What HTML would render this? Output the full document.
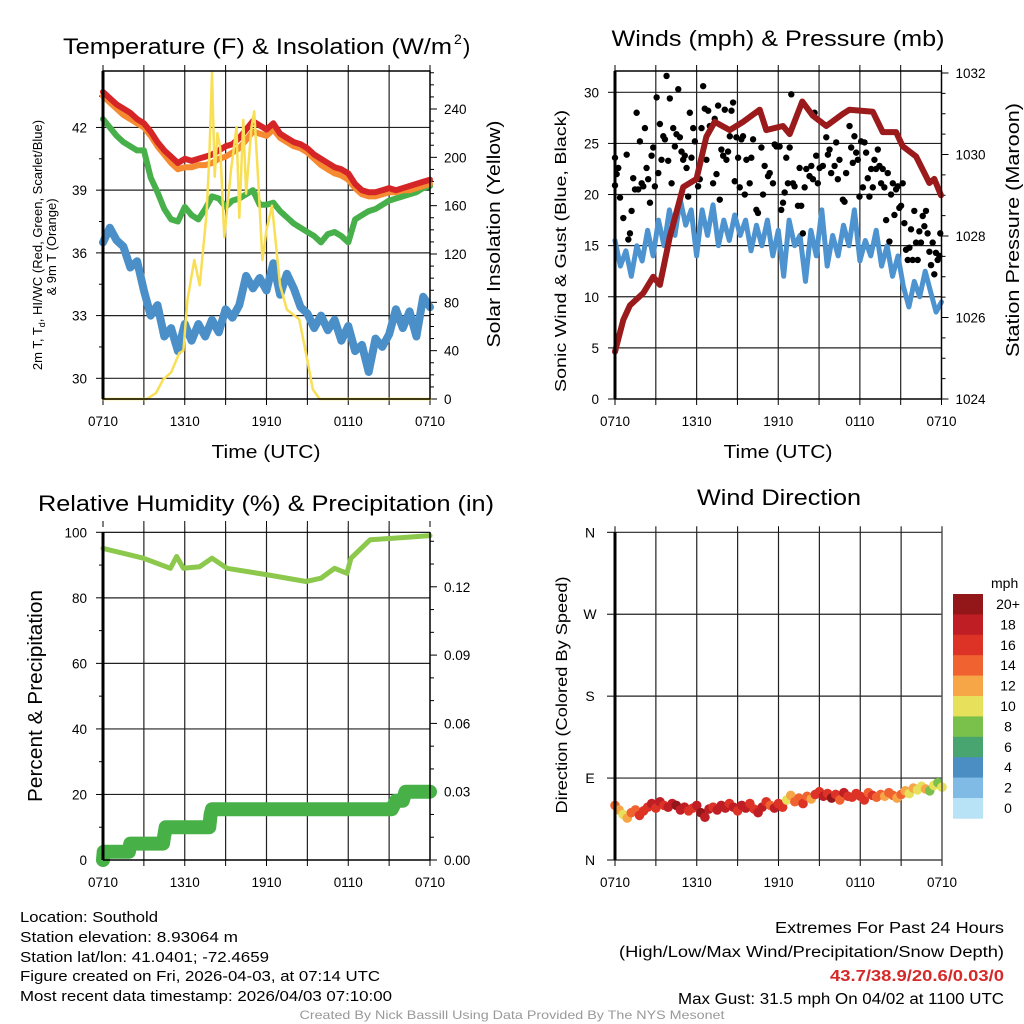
<!DOCTYPE html>
<html><head><meta charset="utf-8"><style>
html,body{margin:0;padding:0;background:#fff;}
svg{display:block;font-family:"Liberation Sans",Arial,sans-serif;}
</style></head><body>
<svg id="chart" xmlns="http://www.w3.org/2000/svg" width="1024" height="1024" viewBox="0 0 1024 1024">
<rect width="1024" height="1024" fill="#fff"/>
<g>
<text x="63" y="54" font-size="22" textLength="389" lengthAdjust="spacingAndGlyphs">Temperature (F) &amp; Insolation (W/m</text>
<text x="454" y="44" font-size="14">2</text>
<text x="463" y="54" font-size="22">)</text>
</g>
<text x="778" y="46" font-size="22" text-anchor="middle" textLength="333" lengthAdjust="spacingAndGlyphs">Winds (mph) &amp; Pressure (mb)</text>
<text x="266" y="511" font-size="22" text-anchor="middle" textLength="456" lengthAdjust="spacingAndGlyphs">Relative Humidity (%) &amp; Precipitation (in)</text>
<text x="779" y="505" font-size="22" text-anchor="middle" textLength="164" lengthAdjust="spacingAndGlyphs">Wind Direction</text>
<text x="266" y="458" font-size="18" text-anchor="middle" textLength="109" lengthAdjust="spacingAndGlyphs">Time (UTC)</text>
<text x="778" y="458" font-size="18" text-anchor="middle" textLength="109" lengthAdjust="spacingAndGlyphs">Time (UTC)</text>
<text transform="translate(42,245) rotate(-90)" font-size="13" text-anchor="middle">2m T, T<tspan font-size="9" dy="3">d</tspan><tspan dy="-3">, HI/WC (Red, Green, Scarlet/Blue)</tspan></text>
<text transform="translate(56,247) rotate(-90)" font-size="13" text-anchor="middle">&amp; 9m T (Orange)</text>
<text transform="translate(500,234) rotate(-90)" font-size="18" text-anchor="middle" textLength="227" lengthAdjust="spacingAndGlyphs">Solar Insolation (Yellow)</text>
<text transform="translate(566,251) rotate(-90)" font-size="16" text-anchor="middle" textLength="282" lengthAdjust="spacingAndGlyphs">Sonic Wind &amp; Gust (Blue, Black)</text>
<text transform="translate(1019,230) rotate(-90)" font-size="18" text-anchor="middle" textLength="254" lengthAdjust="spacingAndGlyphs">Station Pressure (Maroon)</text>
<text transform="translate(42,696) rotate(-90)" font-size="20" text-anchor="middle" textLength="212" lengthAdjust="spacingAndGlyphs">Percent &amp; Precipitation</text>
<text transform="translate(567,695) rotate(-90)" font-size="16" text-anchor="middle" textLength="237" lengthAdjust="spacingAndGlyphs">Direction (Colored By Speed)</text>
<g font-size="14.5">
<text x="20" y="922" textLength="138" lengthAdjust="spacingAndGlyphs">Location: Southold</text>
<text x="20" y="942" textLength="218" lengthAdjust="spacingAndGlyphs">Station elevation: 8.93064 m</text>
<text x="20" y="962" textLength="249" lengthAdjust="spacingAndGlyphs">Station lat/lon: 41.0401; -72.4659</text>
<text x="20" y="981" textLength="360" lengthAdjust="spacingAndGlyphs">Figure created on Fri, 2026-04-03, at 07:14 UTC</text>
<text x="20" y="1001" textLength="372" lengthAdjust="spacingAndGlyphs">Most recent data timestamp: 2026/04/03 07:10:00</text>
</g>
<g font-size="15.5" text-anchor="end">
<text x="1004" y="933" textLength="229" lengthAdjust="spacingAndGlyphs">Extremes For Past 24 Hours</text>
<text x="1004" y="957" textLength="385" lengthAdjust="spacingAndGlyphs">(High/Low/Max Wind/Precipitation/Snow Depth)</text>
<text x="1004" y="981" fill="#d42a2a" font-weight="bold" textLength="174" lengthAdjust="spacingAndGlyphs">43.7/38.9/20.6/0.03/0</text>
<text x="1004" y="1004" textLength="326" lengthAdjust="spacingAndGlyphs">Max Gust: 31.5 mph On 04/02 at 1100 UTC</text>
</g>
<text x="512" y="1019" font-size="12" fill="#999" text-anchor="middle" textLength="425" lengthAdjust="spacingAndGlyphs">Created By Nick Bassill Using Data Provided By The NYS Mesonet</text>
</svg>
<script>
// ---------- data ----------
const xTickLabels = ["0710","1310","1910","0110","0710"];
const halfHours = [0,0.5,1,1.5,2,2.5,3,3.5,4,4.5,5,5.5,6,6.5,7,7.5,8,8.5,9,9.5,10,10.5,11,11.5,12,12.5,13,13.5,14,14.5,15,15.5,16,16.5,17,17.5,18,18.5,19,19.5,20,20.5,21,21.5,22,22.5,23,23.5,24];
const tempRed = [43.7,43.4,43.1,42.9,42.7,42.4,42.2,41.8,41.3,40.9,40.6,40.3,40.5,40.4,40.5,40.6,40.7,40.9,41.1,41.2,41.5,41.9,42.3,42.1,41.9,42.2,41.7,41.5,41.3,41.2,41.0,40.7,40.5,40.3,40.1,40.0,39.8,39.3,39.0,38.9,38.9,39.0,39.1,39.0,39.1,39.2,39.3,39.4,39.5];
const temp9mOrange = [43.5,43.2,42.9,42.6,42.4,42.2,42.0,41.6,41.1,40.7,40.3,40.0,40.1,40.1,40.2,40.2,40.3,40.5,40.6,40.8,41.0,41.4,41.8,41.7,41.6,41.9,41.5,41.3,41.1,41.0,40.8,40.5,40.2,40.0,39.8,39.7,39.5,39.1,38.8,38.7,38.7,38.8,38.9,38.9,39.0,39.0,39.1,39.2,39.3];
const heatIndexGreen = [42.4,42.0,41.6,41.3,41.1,40.9,40.9,39.6,38.9,38.1,37.6,37.5,38.2,37.8,37.6,38.1,38.7,38.6,38.2,38.5,38.6,38.8,39.0,38.3,38.3,38.4,38.0,37.7,37.4,37.2,37.0,36.8,36.5,36.9,37.0,36.8,36.5,37.6,37.8,38.0,38.1,38.3,38.5,38.6,38.7,38.8,38.9,39.1,39.2];
const dewpointBlue = [36.5,37.2,36.6,36.3,35.3,35.6,34.2,33.0,33.5,32.0,32.4,31.3,32.6,31.8,32.6,32.0,32.8,32.2,33.3,32.9,33.5,34.9,34.3,34.8,34.2,35.5,34.0,35.0,34.3,33.4,33.1,32.4,33.0,32.3,32.8,31.8,32.5,31.3,31.6,30.3,31.9,31.5,32.1,33.3,32.4,33.2,32.0,33.9,33.4];
const solarHours = [0,3.2,3.9,4.4,5.0,5.6,5.9,6.2,6.7,7.1,7.6,7.8,8.0,8.2,8.4,8.6,8.9,9.4,9.8,10.0,10.3,10.5,10.9,11.1,11.4,11.7,12.0,12.4,13.0,13.5,14.4,14.9,15.4,15.9,24];
const solarWm2 = [0,0,5,16,22,38,40,82,115,94,154,200,270,184,220,208,134,190,225,150,231,170,225,238,180,115,140,160,94,74,66,38,8,0,0];
const tempTicks = [30,33,36,39,42];
const solarTicks = [0,40,80,120,160,200,240];

const pressHours = [0,0.61,1.1,2.08,2.81,3.3,4.03,5.01,5.99,6.72,7.33,8.44,9.41,10.64,11.12,12.35,12.84,13.77,14.55,15.53,16.75,17.24,18.95,19.68,20.66,21.15,22.13,23.11,23.47,23.96];
const pressureMb = [1025.16,1025.94,1026.3,1026.6,1027.0,1026.8,1027.98,1029.2,1029.4,1030.44,1030.8,1030.6,1030.8,1031.1,1030.6,1030.7,1030.5,1031.3,1030.95,1030.7,1031.0,1031.1,1031.05,1030.55,1030.55,1030.2,1029.95,1029.3,1029.4,1029.0];
const windHours = [0,0.4,0.8,1.2,1.6,2,2.4,2.8,3.2,3.6,4,4.4,4.8,5.2,5.6,6,6.4,6.8,7.2,7.6,8,8.4,8.8,9.2,9.6,10,10.4,10.8,11.2,11.6,12,12.4,12.8,13.2,13.6,14,14.4,14.8,15.2,15.6,16,16.4,16.8,17.2,17.6,18,18.4,18.8,19.2,19.6,20,20.4,20.8,21.2,21.6,22,22.4,22.8,23.2,23.6,24];
const windMph = [15.5,13,14.5,12,15,13.5,16.5,14,17.5,15,18.5,16,19.5,17,18.5,14,18.5,16,19,15,17.5,15.5,18,16,17.5,14.5,17,15,17.5,14,16.5,12,17.5,15,16,11.5,16.5,14,18.5,13,16,14,17,15,18.5,13.5,15.5,14,16.5,13,15,12,14,11,9,11.5,10,12.5,10.5,8.5,9.5];
const gustHours = [0,0.12,0.24,0,0.37,0.61,0.86,1.1,0.98,1.34,1.22,1.47,1.59,1.71,1.83,1.96,2.08,2.2,2.32,2.44,2.57,2.69,2.81,2.93,3.06,3.18,3.3,3.42,3.55,3.67,3.79,3.91,4.03,4.16,4.28,4.4,4.52,4.65,4.77,4.89,5.01,5.13,5.26,5.38,5.5,5.62,5.75,5.87,6.11,6.23,6.36,6.48,6.6,6.72,6.85,6.97,7.21,7.33,7.46,7.58,7.7,7.82,7.95,8.07,8.19,8.31,8.44,8.56,8.68,8.8,8.92,9.05,9.17,9.29,9.41,9.54,9.66,9.9,10.02,10.15,10.39,10.51,10.76,10.88,11.0,11.12,11.25,11.37,11.61,11.74,11.86,12.1,12.22,12.35,12.47,12.59,12.71,12.84,12.96,13.08,13.2,13.45,13.57,13.69,13.81,13.94,14.06,14.3,14.43,14.55,14.67,14.79,14.91,15.04,15.28,15.53,15.65,15.77,15.89,16.14,16.26,16.38,16.5,16.75,16.87,16.99,17.24,17.36,17.48,17.6,17.73,17.85,17.97,18.09,18.22,18.34,18.46,18.58,18.7,18.83,18.95,19.07,19.19,19.32,19.44,19.56,19.68,19.8,19.93,20.05,20.17,20.29,20.42,20.54,20.66,20.78,20.9,21.03,21.15,21.27,21.39,21.52,21.64,21.76,21.88,22.0,22.13,22.25,22.37,22.49,22.62,22.74,22.86,22.98,23.11,23.23,23.35,23.47,23.59,23.72,23.84,23.91];
const gustMph = [23.6,22.0,22.6,20.9,19.7,17.7,23.9,16.2,15.6,21.6,18.4,20.5,28.0,20.5,25.2,21.1,20.8,26.5,22.6,21.5,19.2,23.8,24.6,20.8,29.5,22.1,26.9,23.4,25.7,25.4,31.6,23.3,29.4,21.1,26.5,24.7,25.9,30.3,25.6,24.2,23.4,23.8,22.6,19.8,28.0,23.6,26.5,25.2,20.8,21.5,26.5,30.6,28.4,23.4,28.2,26.7,21.1,27.4,22.0,28.7,19.5,24.4,23.8,28.3,23.4,24.2,25.7,28.2,29.0,21.3,25.6,23.6,20.7,25.4,25.7,20.0,23.4,21.1,23.6,25.4,18.5,18.2,24.6,20.0,22.8,26.4,21.8,22.1,21.1,24.9,24.7,24.7,18.5,19.2,20.2,23.6,21.1,24.6,29.8,21.1,20.8,18.9,22.6,18.9,16.2,20.7,22.5,21.8,22.8,21.5,28.0,23.8,21.1,22.6,22.8,25.6,23.9,24.4,22.1,22.8,25.1,21.5,23.4,19.5,19.3,22.1,26.7,24.6,23.1,25.7,24.1,23.4,19.8,25.2,20.7,25.1,24.1,21.6,19.8,22.5,20.7,23.4,22.5,24.4,22.8,21.1,22.5,20.7,17.5,22.1,15.4,20.0,21.1,18.0,20.5,20.8,18.7,18.9,21.1,17.2,14.6,13.6,14.8,16.6,13.6,18.4,15.3,13.6,16.4,15.3,17.9,16.9,18.4,16.2,14.4,13.1,15.3,12.2,14.3,13.6,14.0,16.2];
const windTicks = [0,5,10,15,20,25,30];
const pressureTicks = [1024,1026,1028,1030,1032];

const rhHours = [0,2.96,4.95,5.4,5.9,7.1,8.0,9.1,12.1,14.9,16.0,17.0,17.9,18.2,19.6,21.3,24];
const rhPercent = [95.1,92.1,89.0,92.6,89.0,89.5,92.1,89.0,87.0,85.0,86.0,89.0,87.5,92.1,97.7,98.2,99.0];
const precipHours = [0,0.05,1.9,2.0,4.4,4.5,4.6,7.8,7.9,8.0,21.2,21.5,22.0,22.2,24];
const precipInches = [0,0.0036,0.0036,0.0072,0.0072,0.0108,0.0144,0.0144,0.02,0.0223,0.0223,0.026,0.026,0.03,0.03];
const rhTicks = [0,20,40,60,80,100];
const precipTicks = ["0.00","0.03","0.06","0.09","0.12"];

const dirHours = [];
const dirDegrees = [60,55,50,46,52,55,49,54,58,62,57, 64,60,58,62,60,55,58,54,57, 60,52,47,56,58,55,60,57,62,58, 54,60,57,62,56,52,58,64,60,57, 62,58,66,71,64,68,62,70,67,72, 75,70,73,68,72,66,74,70,69,73, 70,66,74,71,69,72,70,74,71,68, 72,76,73,79,77,81,78,76,82,85,80];
const dirSpeedMph = [14,13,11,12,15,14,17,16,17,18,17, 18,17,19,18,21,19,18,17,16, 18,20,19,18,17,18,19,18,17,18, 17,18,19,17,16,18,19,17,15,18, 17,16,11,12,14,15,16,14,13,16, 17,18,16,20,17,15,18,17,16,17, 16,17,15,16,14,15,13,14,15,13, 14,12,11,13,10,11,12,9,11,8,10];
for (let i = 0; i < dirDegrees.length; i++) dirHours.push(+(i * 0.3).toFixed(1));
const dirTickLabels = ["N","E","S","W","N"];
const speedBinLabels = ["0","2","4","6","8","10","12","14","16","18","20+"];
const speedColors = ["#b8e2f6","#7fbbe4","#4a8ec4","#49a56f","#7ac14b","#e6e05a","#f6a646","#f06330","#dd3327","#be1e24","#931619"];

// ---------- helpers ----------
const NS = "http://www.w3.org/2000/svg";
const svg = document.getElementById("chart");
function mk(tag, attrs, parent) {
  const e = document.createElementNS(NS, tag);
  for (const k in attrs) e.setAttribute(k, attrs[k]);
  (parent || svg).appendChild(e);
  return e;
}
function lin(d0, d1, r0, r1) { return v => r0 + (v - d0) * (r1 - r0) / (d1 - d0); }
function pathOf(xs, ys, sx, sy) {
  return xs.map((h, i) => (i ? "L" : "M") + sx(h).toFixed(1) + " " + sy(ys[i]).toFixed(1)).join(" ");
}

function frame(P, name) {
  const g = mk("g", {});
  
  
  for (let h = 3; h < 24; h += 3) {
    const x = P.sx(h);
    const l = mk("line", {x1: x, x2: x, y1: P.y0, y2: P.y1, stroke: "#222", "stroke-width": 1.2}, g);
    
    
  }
  for (let h = 0; h <= 24; h += 3) {
    const x = P.sx(h);
    const t = mk("line", {x1: x, x2: x, y1: P.y1, y2: P.y1 + 6, stroke: "#000", "stroke-width": 1}, g);
    
    
    const t2 = mk("line", {x1: x, x2: x, y1: P.y0 - 6, y2: P.y0, stroke: "#000", "stroke-width": 1}, g);
    
    
  }
  xTickLabels.forEach((lab, i) => {
    const t = mk("text", {x: P.sx(i * 6), y: P.y1 + 27, "font-size": 13.5, "text-anchor": "middle"}, g);
    t.textContent = lab;
    
    
  });
  return g;
}
function border(P, name) {
  const r = mk("rect", {x: P.x0, y: P.y0, width: P.x1 - P.x0, height: P.y1 - P.y0, fill: "none", stroke: "#000", "stroke-width": 1.5});
  
  
  const l = mk("line", {x1: P.x0, x2: P.x0, y1: P.y0, y2: P.y1, stroke: "#000", "stroke-width": 3});
  
  
}
function hGrid(P, yPix, g) {
  const l = mk("line", {x1: P.x0, x2: P.x1, y1: yPix, y2: yPix, stroke: "#222", "stroke-width": 1.2}, g);
  
  
}
function leftTick(P, y, label, g, len) {
  const t = mk("line", {x1: P.x0 - (len || 7), x2: P.x0, y1: y, y2: y, stroke: "#000", "stroke-width": 1}, g);
  
  
  if (label !== null) {
    const tx = mk("text", {x: P.x0 - 16, y: y + 5, "font-size": 13.5, "text-anchor": "end"}, g);
    tx.textContent = label;
    
    
  }
}
function rightTick(P, y, label, g, len) {
  const t = mk("line", {x1: P.x1, x2: P.x1 + (len || 7), y1: y, y2: y, stroke: "#000", "stroke-width": 1}, g);
  
  
  if (label !== null) {
    const tx = mk("text", {x: P.x1 + 14, y: y + 5, "font-size": 13.5, "text-anchor": "start"}, g);
    tx.textContent = label;
    
    
  }
}
function series(d, color, width, name, parent) {
  const p = mk("path", {d: d, fill: "none", stroke: color, "stroke-width": width, "stroke-linejoin": "round", "stroke-linecap": "round"}, parent);
  
  
  return p;
}

// ---------- panel 1: temperature ----------
const P1 = {x0: 103, x1: 430, y0: 71, y1: 399};
P1.sx = lin(0, 24, P1.x0, P1.x1);
P1.sy = lin(29.01, 44.7, P1.y1, P1.y0);
P1.sy2 = lin(0, 240, P1.y1, 109);
const g1 = frame(P1, "temperature");
tempTicks.forEach(v => { hGrid(P1, P1.sy(v), g1); leftTick(P1, P1.sy(v), String(v), g1); });
for (let v = 30; v <= 44; v += 1.5) if (tempTicks.indexOf(v) < 0) leftTick(P1, P1.sy(v), null, g1, 4);
solarTicks.forEach(v => rightTick(P1, P1.sy2(v), String(v), g1));
for (let v = 10; v <= 270; v += 10) if (v % 40) rightTick(P1, P1.sy2(v), null, g1, 4);
const s1 = mk("g", {});


series(pathOf(halfHours, dewpointBlue, P1.sx, P1.sy), "#4a8fc8", 8, "dewpoint-line", s1);
series(pathOf(halfHours, heatIndexGreen, P1.sx, P1.sy), "#48b04a", 6, "heat-index-line", s1);
series(pathOf(halfHours, temp9mOrange, P1.sx, P1.sy), "#f58a30", 6, "temp-9m-line", s1);
series(pathOf(halfHours, tempRed, P1.sx, P1.sy), "#d62527", 6, "temp-2m-line", s1);
series(pathOf(solarHours, solarWm2, P1.sx, P1.sy2), "#f8df55", 2.5, "solar-insolation-line", s1);
border(P1, "temperature");

// ---------- panel 2: winds & pressure ----------
const P2 = {x0: 615, x1: 941.5, y0: 71, y1: 399};
P2.sx = lin(0, 24, P2.x0, P2.x1);
P2.sy = lin(0, 30, P2.y1, 92.3);
P2.sy2 = lin(1024, 1032, P2.y1, 73);
const g2 = frame(P2, "winds");
windTicks.forEach(v => { if (v > 0) hGrid(P2, P2.sy(v), g2); leftTick(P2, P2.sy(v), String(v), g2); });
pressureTicks.forEach(v => rightTick(P2, P2.sy2(v), String(v), g2));
for (let v = 1024.5; v < 1032; v += 0.5) if (v % 2) rightTick(P2, P2.sy2(v), null, g2, 4);
const s2 = mk("g", {});


series(pathOf(windHours, windMph, P2.sx, P2.sy), "#4d93d0", 5, "sonic-wind-line", s2);
gustHours.forEach((h, i) => {
  const c = mk("circle", {cx: P2.sx(h), cy: P2.sy(gustMph[i]), r: 3.2, fill: "#000"}, s2);
  
  
});
series(pathOf(pressHours, pressureMb, P2.sx, P2.sy2), "#9b1a1c", 6, "pressure-line", s2);
border(P2, "winds");

// ---------- panel 3: humidity & precipitation ----------
const P3 = {x0: 103, x1: 430, y0: 527, y1: 860};
P3.sx = lin(0, 24, P3.x0, P3.x1);
P3.sy = lin(0, 100, P3.y1, 532.3);
P3.sy2 = lin(0, 0.03, P3.y1, 791.7);
const g3 = frame(P3, "humidity");
rhTicks.forEach(v => { if (v > 0 && v < 100) hGrid(P3, P3.sy(v), g3); leftTick(P3, P3.sy(v), String(v), g3); });
for (let v = 10; v < 100; v += 20) leftTick(P3, P3.sy(v), null, g3, 4);
precipTicks.forEach(v => rightTick(P3, P3.sy2(parseFloat(v)), v, g3));
for (let v = 0.01; v < 0.145; v += 0.01) if (Math.round(v * 100) % 3) rightTick(P3, P3.sy2(v), null, g3, 4);
const s3 = mk("g", {});


series(pathOf(precipHours, precipInches, P3.sx, P3.sy2), "#47b148", 14, "precipitation-line", s3);
series(pathOf(rhHours, rhPercent, P3.sx, P3.sy), "#8cc84b", 5, "relative-humidity-line", s3);
{ const t = mk("line", {x1: P3.x0, x2: P3.x1, y1: 532.3, y2: 532.3, stroke: "#000", "stroke-width": 1.2});
    }
{ const l = mk("line", {x1: P3.x0, x2: P3.x0, y1: 532, y2: P3.y1, stroke: "#000", "stroke-width": 3});
   
  const r = mk("line", {x1: P3.x1, x2: P3.x1, y1: 532, y2: P3.y1, stroke: "#000", "stroke-width": 1.5});
   
  const b = mk("line", {x1: P3.x0, x2: P3.x1, y1: P3.y1, y2: P3.y1, stroke: "#000", "stroke-width": 1.5});
    }

// ---------- panel 4: wind direction ----------
const P4 = {x0: 615, x1: 942, y0: 532.3, y1: 860};
P4.sx = lin(0, 24, P4.x0, P4.x1);
P4.sy = lin(0, 360, P4.y1, P4.y0);
const g4 = frame(P4, "direction");
dirTickLabels.forEach((lab, i) => {
  const y = P4.sy(i * 90);
  hGrid(P4, y, g4);
  const t = mk("line", {x1: P4.x0 - 8, x2: P4.x0, y1: y, y2: y, stroke: "#000"}, g4);
  
  
  const tx = mk("text", {x: P4.x0 - 25, y: y + 5, "font-size": 14, "text-anchor": "middle"}, g4);
  tx.textContent = lab;
  
  
});
const s4 = mk("g", {});


dirHours.forEach((h, i) => {
  const bin = Math.min(10, Math.floor(dirSpeedMph[i] / 2));
  const c = mk("circle", {cx: P4.sx(h), cy: P4.sy(dirDegrees[i]), r: 4.8, fill: speedColors[bin]}, s4);
  
  
});
{ const l = mk("line", {x1: P4.x0, x2: P4.x0, y1: P4.y0, y2: P4.y1, stroke: "#000", "stroke-width": 3});
   
  const r = mk("line", {x1: P4.x1, x2: P4.x1, y1: P4.y0, y2: P4.y1, stroke: "#555", "stroke-width": 1.5});
    }
// colorbar
const cb = mk("g", {});


const cbTop = 594, cbH = 20.4;
speedColors.slice().reverse().forEach((col, i) => {
  const r = mk("rect", {x: 953, y: cbTop + i * cbH, width: 30, height: cbH + 0.3, fill: col}, cb);
  
  
  const t = mk("text", {x: 1008, y: cbTop + i * cbH + 15, "font-size": 14, "text-anchor": "middle"}, cb);
  t.textContent = speedBinLabels[10 - i];
  
  
});
{ const t = mk("text", {x: 991, y: 588, "font-size": 14}, cb);
  t.textContent = "mph";
  
   }
</script>
</body></html>
